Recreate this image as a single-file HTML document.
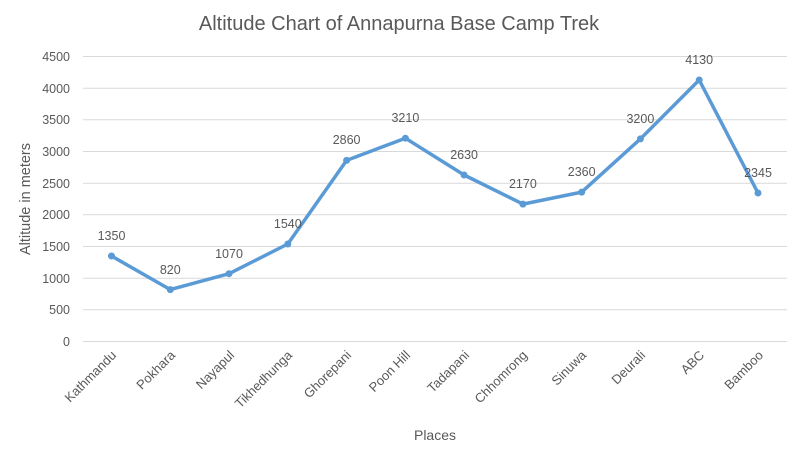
<!DOCTYPE html>
<html><head><meta charset="utf-8"><style>body{margin:0;background:#fff}svg{display:block}text{font-family:"Liberation Sans",sans-serif;fill:#595959}</style></head>
<body>
<svg width="799" height="453" viewBox="0 0 799 453" xmlns="http://www.w3.org/2000/svg">
<rect width="799" height="453" fill="#fff"/>
<text x="399" y="30" text-anchor="middle" font-size="20">Altitude Chart of Annapurna Base Camp Trek</text>
<g stroke="#d9d9d9" stroke-width="1">
<line x1="83" x2="787" y1="341.5" y2="341.5"/><line x1="83" x2="787" y1="309.8" y2="309.8"/><line x1="83" x2="787" y1="278.2" y2="278.2"/><line x1="83" x2="787" y1="246.5" y2="246.5"/><line x1="83" x2="787" y1="214.8" y2="214.8"/><line x1="83" x2="787" y1="183.2" y2="183.2"/><line x1="83" x2="787" y1="151.5" y2="151.5"/><line x1="83" x2="787" y1="119.8" y2="119.8"/><line x1="83" x2="787" y1="88.2" y2="88.2"/><line x1="83" x2="787" y1="56.5" y2="56.5"/>
</g>
<g font-size="12.5" text-anchor="end">
<text x="70" y="346">0</text><text x="70" y="314">500</text><text x="70" y="283">1000</text><text x="70" y="251">1500</text><text x="70" y="219">2000</text><text x="70" y="188">2500</text><text x="70" y="156">3000</text><text x="70" y="124">3500</text><text x="70" y="93">4000</text><text x="70" y="61">4500</text>
</g>
<text transform="translate(30,199) rotate(-90)" text-anchor="middle" font-size="14.5">Altitude in meters</text>
<text x="435" y="440" text-anchor="middle" font-size="14">Places</text>
<g font-size="13" text-anchor="end">
<text transform="translate(117,356) rotate(-45)">Kathmandu</text>
<text transform="translate(176,356) rotate(-45)">Pokhara</text>
<text transform="translate(235,356) rotate(-45)">Nayapul</text>
<text transform="translate(293,356) rotate(-45)">Tikhedhunga</text>
<text transform="translate(352,356) rotate(-45)">Ghorepani</text>
<text transform="translate(411,356) rotate(-45)">Poon Hill</text>
<text transform="translate(470,356) rotate(-45)">Tadapani</text>
<text transform="translate(528,356) rotate(-45)">Chhomrong</text>
<text transform="translate(587,356) rotate(-45)">Sinuwa</text>
<text transform="translate(646,356) rotate(-45)">Deurali</text>
<text transform="translate(705,356) rotate(-45)">ABC</text>
<text transform="translate(764,356) rotate(-45)">Bamboo</text>
</g>
<polyline fill="none" stroke="#5b9bd5" stroke-width="3.5" stroke-linejoin="round" points="111.5,256 170.3,289.6 229,273.7 287.8,244 346.6,160.4 405.4,138.2 464.1,175 522.9,204.1 581.7,192.1 640.4,138.9 699.2,80 758,193"/>
<g fill="#5b9bd5">
<circle cx="111.5" cy="256" r="3.5"/><circle cx="170.3" cy="289.6" r="3.5"/><circle cx="229" cy="273.7" r="3.5"/><circle cx="287.8" cy="244" r="3.5"/><circle cx="346.6" cy="160.4" r="3.5"/><circle cx="405.4" cy="138.2" r="3.5"/><circle cx="464.1" cy="175" r="3.5"/><circle cx="522.9" cy="204.1" r="3.5"/><circle cx="581.7" cy="192.1" r="3.5"/><circle cx="640.4" cy="138.9" r="3.5"/><circle cx="699.2" cy="80" r="3.5"/><circle cx="758" cy="193" r="3.5"/>
</g>
<g font-size="12.5" text-anchor="middle" style="fill:#404040">
<text x="111.5" y="240">1350</text><text x="170.3" y="274">820</text><text x="229" y="258">1070</text><text x="287.8" y="228">1540</text><text x="346.6" y="144">2860</text><text x="405.4" y="122">3210</text><text x="464.1" y="159">2630</text><text x="522.9" y="188">2170</text><text x="581.7" y="176">2360</text><text x="640.4" y="123">3200</text><text x="699.2" y="64">4130</text><text x="758" y="177">2345</text>
</g>
</svg>
</body></html>
